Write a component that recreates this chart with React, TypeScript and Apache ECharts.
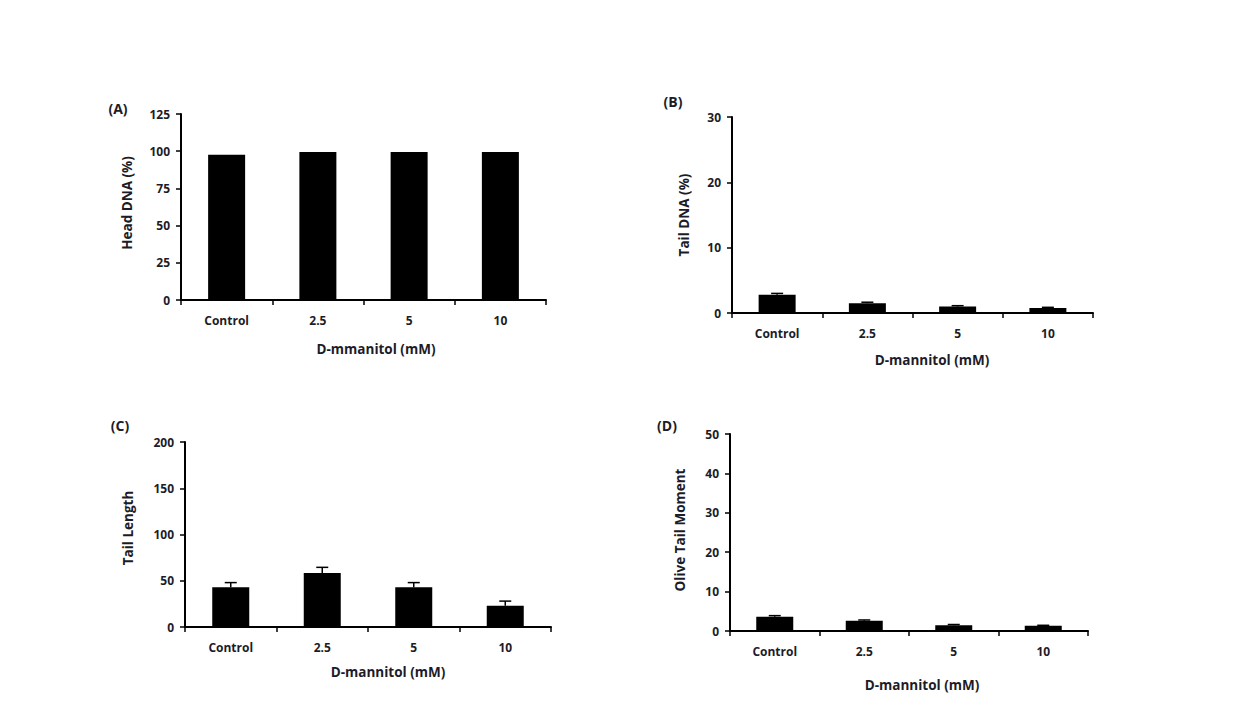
import React, { useEffect, useRef } from "react";
import * as echarts from "echarts";

const categories = ["Control", "2.5", "5", "10"];

const headDNA = [97.6, 99.4, 99.4, 99.4];
const headDNAErr = [0, 0, 0, 0];

const tailDNA = [2.8, 1.5, 1.0, 0.75];
const tailDNAErr = [0.2, 0.15, 0.12, 0.12];

const tailLength = [43, 58.5, 43, 23];
const tailLengthErr = [5, 6, 5, 5];

const oliveMoment = [3.6, 2.6, 1.45, 1.35];
const oliveMomentErr = [0.3, 0.2, 0.2, 0.1];

const panels = [
  { label: "(A)", yName: "Head DNA (%)", xName: "D-mmanitol (mM)", values: headDNA, errs: headDNAErr, max: 125, interval: 25 },
  { label: "(B)", yName: "Tail DNA (%)", xName: "D-mannitol (mM)", values: tailDNA, errs: tailDNAErr, max: 30, interval: 10 },
  { label: "(C)", yName: "Tail Length", xName: "D-mannitol (mM)", values: tailLength, errs: tailLengthErr, max: 200, interval: 50 },
  { label: "(D)", yName: "Olive Tail Moment", xName: "D-mannitol (mM)", values: oliveMoment, errs: oliveMomentErr, max: 50, interval: 10 },
];

// layout (positions/sizes)
const grids = [
  { left: 181, top: 114, width: 365, height: 186 },
  { left: 732, top: 117, width: 361, height: 196 },
  { left: 185, top: 442, width: 366, height: 185 },
  { left: 730, top: 434, width: 358, height: 197 },
];
const panelLabelPos = [
  [118, 108],
  [673, 101],
  [120, 425],
  [667, 425],
];
const yNamePos = [
  [127, 203],
  [684, 215],
  [128, 528],
  [680, 530],
];
const xNamePos = [
  [376, 349],
  [932, 360],
  [388, 672],
  [922, 685],
];

const FONT = "'Open Sans', 'Liberation Sans', sans-serif";
const TEXT = "#1c1c28";

export default function App() {
  const ref = useRef<HTMLDivElement>(null);
  useEffect(() => {
    if (!ref.current) return;
    const chart = echarts.init(ref.current, undefined, { renderer: "svg" });
    const axisLine = { show: true, lineStyle: { color: "#000", width: 2 } };
    const axisTick = { show: true, inside: false, length: 5, lineStyle: { color: "#000", width: 1.5 } };
    const labelStyle = { color: TEXT, fontFamily: FONT, fontWeight: "bold" as const, fontSize: 12 };

    const graphics: any[] = [];
    panels.forEach((p, i) => {
      graphics.push({
        type: "text", x: panelLabelPos[i][0], y: panelLabelPos[i][1],
        style: { text: p.label, font: `bold 14px ${FONT}`, fill: TEXT, textAlign: "center", textVerticalAlign: "middle" },
      });
      graphics.push({
        type: "text", x: yNamePos[i][0], y: yNamePos[i][1], rotation: Math.PI / 2,
        style: { text: p.yName, font: `bold 13.5px ${FONT}`, fill: TEXT, textAlign: "center", textVerticalAlign: "middle" },
      });
      graphics.push({
        type: "text", x: xNamePos[i][0], y: xNamePos[i][1],
        style: { text: p.xName, font: `bold 13.5px ${FONT}`, fill: TEXT, textAlign: "center", textVerticalAlign: "middle" },
      });
    });

    const series: any[] = [];
    panels.forEach((p, i) => {
      series.push({
        type: "bar", xAxisIndex: i, yAxisIndex: i, data: p.values, barWidth: 37,
        itemStyle: { color: "#000" }, z: 2,
      });
      series.push({
        type: "custom", xAxisIndex: i, yAxisIndex: i, z: 3,
        data: p.values.map((v, k) => [k, v, p.errs[k]]),
        encode: { x: 0, y: 1 },
        renderItem: (params: any, api: any) => {
          const x = api.value(0);
          const v = api.value(1);
          const e = api.value(2);
          if (!(e > 0)) return null;
          const base = api.coord([x, v]);
          const top = api.coord([x, v + e]);
          const half = 6;
          return {
            type: "group",
            children: [
              { type: "line", shape: { x1: base[0], y1: base[1], x2: top[0], y2: top[1] }, style: { stroke: "#000", lineWidth: 1.5 } },
              { type: "line", shape: { x1: top[0] - half, y1: top[1], x2: top[0] + half, y2: top[1] }, style: { stroke: "#000", lineWidth: 1.5 } },
            ],
          };
        },
      });
    });

    chart.setOption({
      animation: false,
      backgroundColor: "#fff",
      grid: grids.map((g) => ({ ...g, containLabel: false })),
      xAxis: panels.map((_, i) => ({
        type: "category", gridIndex: i, data: categories,
        axisLine, axisTick: { ...axisTick, alignWithLabel: false },
        axisLabel: { ...labelStyle, margin: 14 },
        splitLine: { show: false },
      })),
      yAxis: panels.map((p, i) => ({
        type: "value", gridIndex: i, min: 0, max: p.max, interval: p.interval,
        axisLine, axisTick,
        axisLabel: { ...labelStyle, margin: 11 },
        splitLine: { show: false },
      })),
      series,
      graphic: graphics,
    });
    return () => chart.dispose();
  }, []);
  return (
    <div
      ref={ref}
      style={{ position: "fixed", left: 0, top: 0, width: 1250, height: 720, background: "#fff" }}
    />
  );
}
